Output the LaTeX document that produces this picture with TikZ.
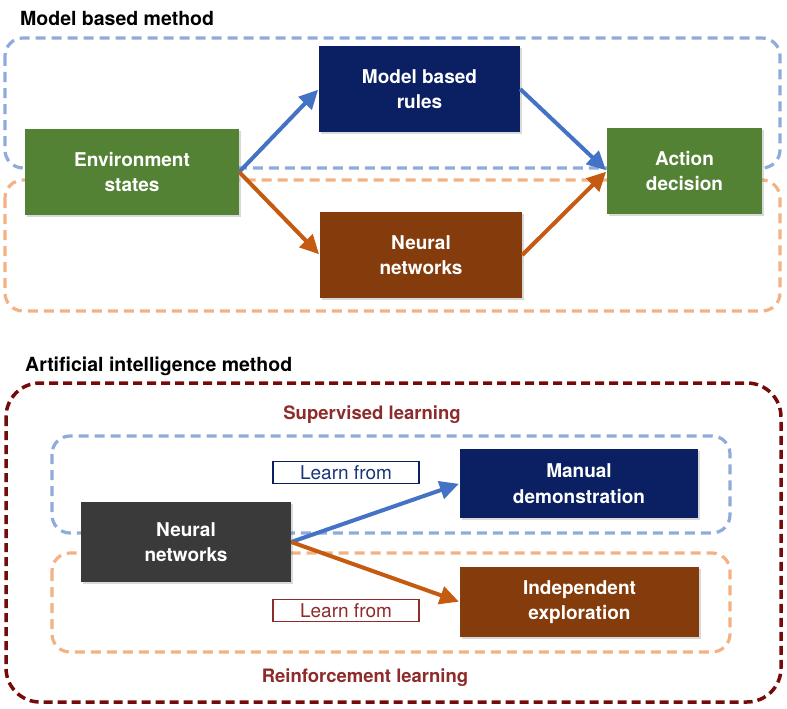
\documentclass[tikz,border=0pt]{standalone}
\usepackage{fontspec}
\setmainfont{TeX Gyre Heros}
\usetikzlibrary{arrows.meta,shadows}
\definecolor{envgreen}{HTML}{548235}
\definecolor{rulenavy}{HTML}{0B2063}
\definecolor{netbrown}{HTML}{843C0C}
\definecolor{netgrey}{HTML}{3A3A3A}
\definecolor{arrblue}{HTML}{4472C4}
\definecolor{arrorange}{HTML}{C55A11}
\definecolor{dashblue}{HTML}{8FAADC}
\definecolor{dashorange}{HTML}{F4B183}
\definecolor{dashred}{HTML}{740A0A}
\definecolor{labelred}{HTML}{8E2B2B}
\begin{document}
\begin{tikzpicture}[x=1pt,y=-1pt]
    \tikzstyle{block} = [shape=rectangle, align=center, text=white, font=\fontsize{19}{25.5}\selectfont\bfseries,
                         inner sep=0pt, drop shadow={shadow xshift=2pt, shadow yshift=-2pt, opacity=0.3}]
    \tikzstyle{zone}  = [line width=3.2pt, dash pattern=on 10pt off 6pt, rounded corners=18pt]
    \tikzstyle{link}  = [line width=4pt, -{Triangle[length=19pt, width=18pt]}, shorten >=1pt]
    \tikzstyle{learn} = [shape=rectangle, draw, line width=1.5pt, fill=white, minimum width=146pt, minimum height=22pt,
                         inner sep=0pt, font=\fontsize{19}{22}\selectfont]
    \tikzstyle{head}  = [anchor=west, inner sep=0pt, font=\fontsize{19.5}{22}\selectfont\bfseries]

    \useasboundingbox (0,0) rectangle (787,709);

    \node[head] (mbtitle) at (20,18) {Model based method};

        \draw[zone, dashblue]   (5,38)  rectangle (780,168);
        \draw[zone, dashorange] (5,180) rectangle (780,311);

            \node[block, fill=envgreen, minimum width=214pt, minimum height=86pt] (env)   at (132,172) {Environment\\states};
            \node[block, fill=rulenavy, minimum width=201pt, minimum height=86pt] (rules) at (419.5,89) {Model based\\rules};
            \node[block, fill=netbrown, minimum width=202pt, minimum height=86pt] (nnA)   at (421,255) {Neural\\networks};
            \node[block, fill=envgreen, minimum width=155pt, minimum height=86pt] (act)   at (684.5,171) {Action\\decision};

            \draw[link, arrblue]   (env.east)   -- (rules.west);
            \draw[link, arrorange] (env.east)   -- (nnA.west);
            \draw[link, arrblue]   (rules.east) -- (act.west);
            \draw[link, arrorange] (nnA.east)   -- (act.west);

    \node[head] (aititle) at (25,366) {Artificial intelligence method};

        \draw[zone, dashred, dash pattern=on 9pt off 5pt, line width=3.5pt, rounded corners=34pt] (6,383) rectangle (781,702);

            \node[head, anchor=center, text=labelred, font=\fontsize{18.5}{22}\selectfont\bfseries] (sup) at (372,415) {Supervised learning};
            \node[head, anchor=center, text=labelred, font=\fontsize{18.5}{22}\selectfont\bfseries] (rei) at (365,678) {Reinforcement learning};

            \draw[zone, dashblue]   (52,436) rectangle (730,533);
            \draw[zone, dashorange] (52,553) rectangle (730,652);

            \node[learn, draw=rulenavy, text=rulenavy!75!arrblue] (learnA) at (346,472.5) {Learn from};
            \node[learn, draw=labelred, text=labelred]            (learnB) at (346,610.5) {Learn from};

            \node[block, fill=netgrey,  minimum width=210pt, minimum height=80pt] (nnB)   at (186,542) {Neural\\networks};
            \node[block, fill=rulenavy, minimum width=238pt, minimum height=69pt] (man)   at (579,483.5) {Manual\\demonstration};
            \node[block, fill=netbrown, minimum width=239pt, minimum height=70pt] (indep) at (579.5,602) {Independent\\exploration};

            \draw[link, arrblue]   (nnB.east) -- (man.west);
            \draw[link, arrorange] (nnB.east) -- (indep.west);
\end{tikzpicture}
\end{document}
